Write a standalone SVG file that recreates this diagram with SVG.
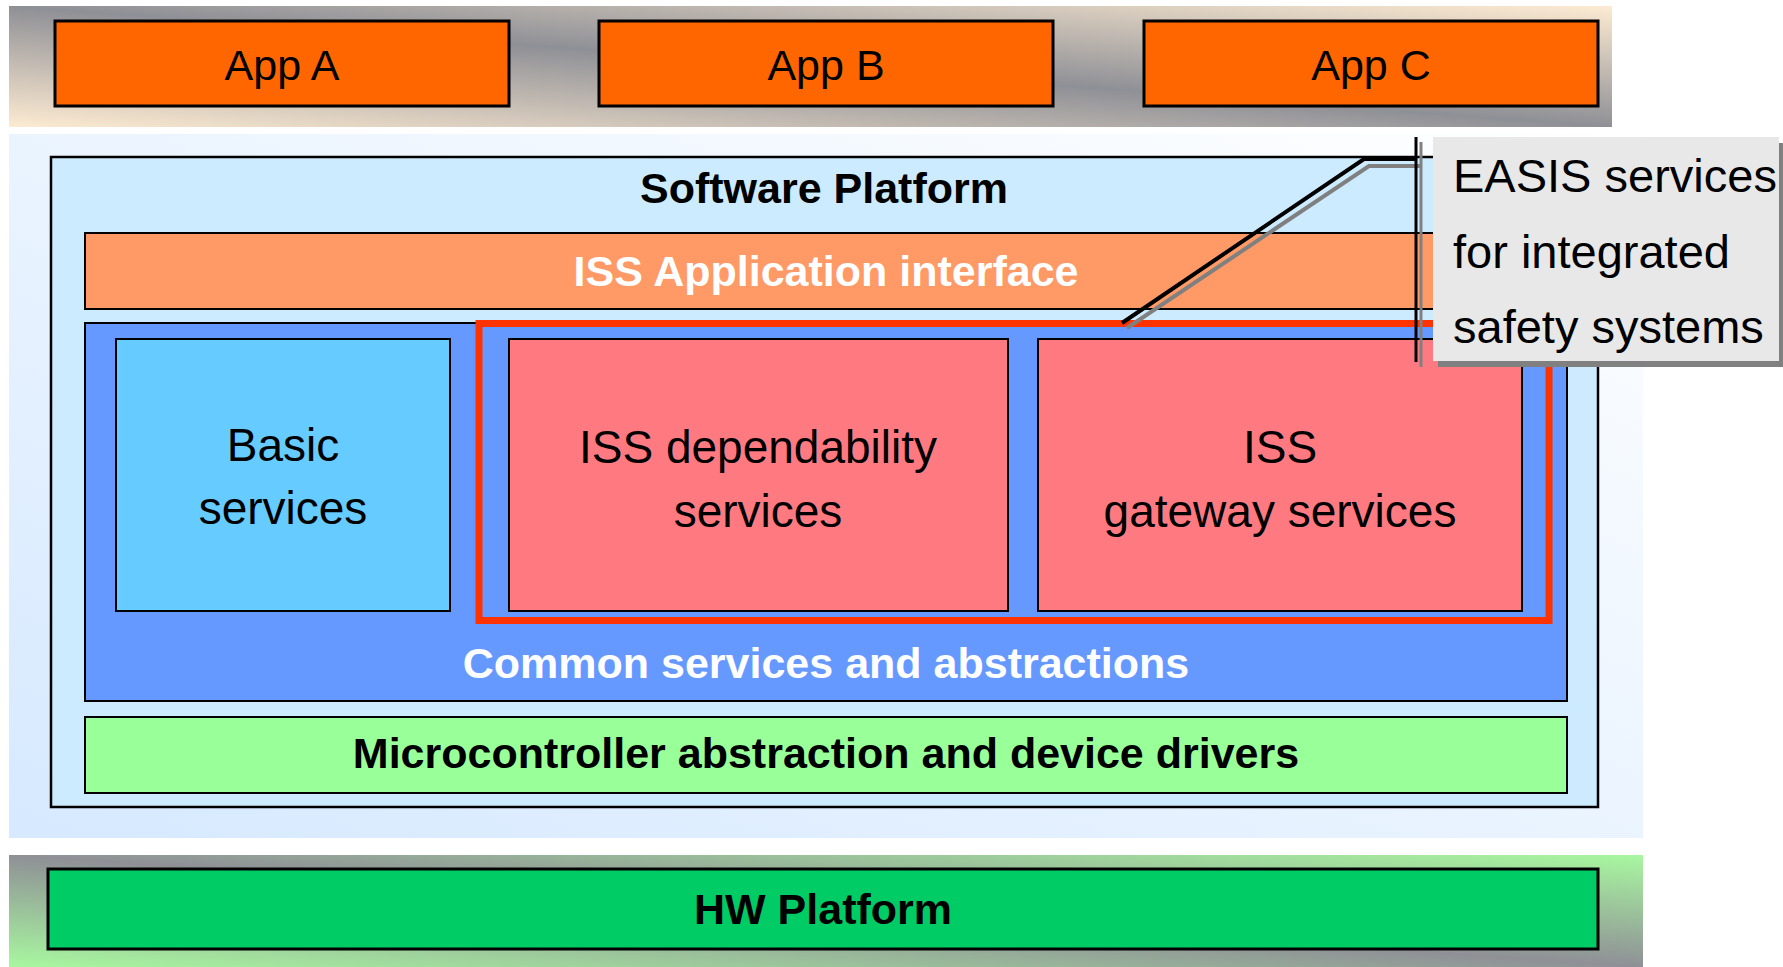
<svg xmlns="http://www.w3.org/2000/svg" width="1783" height="967" viewBox="0 0 1783 967">
<defs>
<linearGradient id="gTop" x1="0" y1="1" x2="1" y2="0">
<stop offset="0" stop-color="#FDEBD2"/>
<stop offset="0.5" stop-color="#8F9096"/>
<stop offset="1" stop-color="#FDEBD2"/>
</linearGradient>
<linearGradient id="gHw" x1="0" y1="1" x2="1" y2="0">
<stop offset="0" stop-color="#A8F7A0"/>
<stop offset="0.5" stop-color="#8F9096"/>
<stop offset="1" stop-color="#A8F7A0"/>
</linearGradient>
<linearGradient id="gSp" x1="0" y1="1" x2="1" y2="0">
<stop offset="0" stop-color="#D6E9FF"/>
<stop offset="1" stop-color="#FFFFFF"/>
</linearGradient>
</defs>
<style>
.box{stroke:#000;stroke-width:2}
.app{fill:#FF6600;stroke:#000;stroke-width:3}
.t{font-family:"Liberation Sans",Arial,sans-serif;text-anchor:middle;fill:#000}
.r{font-size:46px}
.a{font-size:43px}
.b{font-size:43px;font-weight:bold}
.w{fill:#FFF}
.c{font-family:"Liberation Sans",Arial,sans-serif;font-size:47px;fill:#000}
</style>
<rect width="1783" height="967" fill="#FFFFFF"/>

<g id="app-band">
<rect x="9" y="6" width="1603" height="121" fill="url(#gTop)"/>
</g>
<g id="app-a">
<rect class="app" x="55" y="21" width="454" height="85"/>
<text class="t a" x="282" y="80">App A</text>
</g>
<g id="app-b">
<rect class="app" x="599" y="21" width="454" height="85"/>
<text class="t a" x="826" y="80">App B</text>
</g>
<g id="app-c">
<rect class="app" x="1144" y="21" width="454" height="85"/>
<text class="t a" x="1371" y="80">App C</text>
</g>

<g id="sp-background">
<rect x="9" y="134" width="1634" height="704" fill="url(#gSp)"/>
</g>
<g id="software-platform">
<rect x="51" y="157" width="1547" height="650" fill="#CCEBFF" stroke="#000" stroke-width="2.5"/>
<text class="t b" x="824" y="203">Software Platform</text>
</g>
<g id="iss-app-interface">
<rect class="box" x="85" y="233" width="1482" height="76" fill="#FF9966"/>
<text class="t b w" x="826" y="286">ISS Application interface</text>
</g>
<g id="common-services">
<rect class="box" x="85" y="323" width="1482" height="378" fill="#6699FF"/>
<text class="t b w" x="826" y="678">Common services and abstractions</text>
</g>
<g id="basic-services">
<rect class="box" x="116" y="339" width="334" height="272" fill="#66CCFF"/>
<text class="t r" x="283" y="461">Basic</text>
<text class="t r" x="283" y="524">services</text>
</g>
<g id="iss-group">
<rect x="479" y="323.5" width="1070" height="297" fill="none" stroke="#FF3300" stroke-width="7"/>
</g>
<g id="iss-dependability">
<rect class="box" x="509" y="339" width="499" height="272" fill="#FF7A80"/>
<text class="t r" x="758" y="463">ISS dependability</text>
<text class="t r" x="758" y="527">services</text>
</g>
<g id="iss-gateway">
<rect class="box" x="1038" y="339" width="484" height="272" fill="#FF7A80"/>
<text class="t r" x="1280" y="463">ISS</text>
<text class="t r" x="1280" y="527">gateway services</text>
</g>
<g id="microcontroller">
<rect class="box" x="85" y="717" width="1482" height="76" fill="#99FF99"/>
<text class="t b" x="826" y="768">Microcontroller abstraction and device drivers</text>
</g>

<g id="hw-band">
<rect x="9" y="855" width="1634" height="112" fill="url(#gHw)"/>
</g>
<g id="hw-platform">
<rect x="48" y="869" width="1550" height="80" fill="#00CC66" stroke="#000" stroke-width="3"/>
<text class="t b" x="823" y="924">HW Platform</text>
</g>

<g id="connectors">
<polyline points="1420,166 1369,166 1127,328" fill="none" stroke="#808080" stroke-width="4"/>
<polyline points="1416,159 1364,159 1122,323" fill="none" stroke="#000" stroke-width="4"/>
<line x1="1421" y1="142" x2="1421" y2="367" stroke="#808080" stroke-width="3"/>
<line x1="1416" y1="137" x2="1416" y2="362" stroke="#000" stroke-width="3"/>
</g>

<g id="easis-callout">
<rect x="1438" y="143" width="345" height="224" fill="#808080"/>
<rect x="1433" y="137" width="346" height="224" fill="#E8E8E8"/>
<text class="c" x="1453" y="192">EASIS services</text>
<text class="c" x="1453" y="268">for integrated</text>
<text class="c" x="1453" y="343">safety systems</text>
</g>
</svg>
